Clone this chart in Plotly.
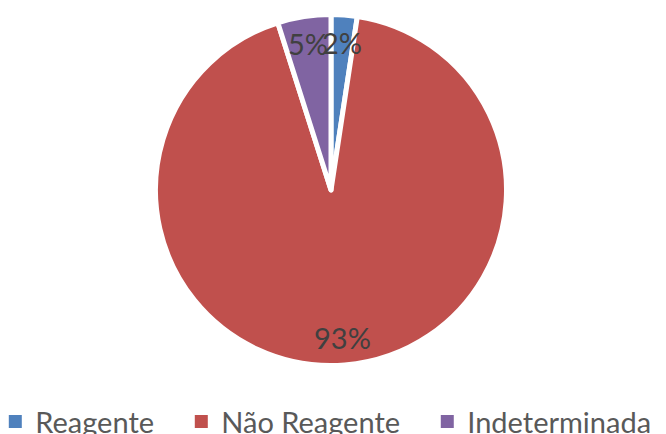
import math
import plotly.graph_objects as go

categories = ["Reagente", "Não Reagente", "Indeterminada"]
values = [2.4, 92.7, 4.9]
colors = ["#4F81BD", "#C0504D", "#8064A2"]
labels_text = ["2%", "93%", "5%"]

FONT = "Lato"
W, H = 740, 434                  # figure is wider than the window; the page body adds an 8px offset
OFF = 8
SCX, SCY = 331, 190              # pie centre on screen, px
R_PX = 175.5                     # outer radius incl. white stroke, px
LABEL_R = 148                    # label distance from centre, px

CX = (SCX - OFF) / W
CY = 1 - (SCY - OFF) / H

fig = go.Figure()
fig.add_trace(go.Pie(
    labels=categories,
    values=values,
    textinfo="none",
    sort=False,
    direction="clockwise",
    rotation=0,
    marker=dict(colors=colors, line=dict(color="white", width=5)),
    domain=dict(x=[CX - R_PX / W, CX + R_PX / W], y=[CY - R_PX / H, CY + R_PX / H]),
    hoverinfo="skip",
    showlegend=False,
))

# legend entries (square markers)
pad = "\u00a0\u00a0\u00a0"
for i, (name, col) in enumerate(zip(categories, colors)):
    fig.add_trace(go.Scatter(
        x=[None], y=[None], mode="markers",
        name=name + (pad if i < len(categories) - 1 else ""),
        marker=dict(symbol="square", size=13, color=col),
        showlegend=True, hoverinfo="skip",
    ))

# percentage labels placed on each slice's bisector
total = sum(values)
cum = 0.0
for v, t in zip(values, labels_text):
    mid = (cum + v / 2) / total * 2 * math.pi
    cum += v
    fig.add_annotation(
        x=CX + LABEL_R * math.sin(mid) / W,
        y=CY + LABEL_R * math.cos(mid) / H,
        xref="paper", yref="paper",
        text=t, showarrow=False,
        font=dict(family=FONT, size=29, color="#404040"),
        xanchor="center", yanchor="middle",
    )

fig.update_layout(
    width=W, height=H,
    margin=dict(l=0, r=0, t=0, b=0, autoexpand=False),
    paper_bgcolor="white",
    plot_bgcolor="white",
    xaxis=dict(visible=False),
    yaxis=dict(visible=False),
    legend=dict(
        orientation="h",
        x=-12.7 / W, xanchor="left",
        y=-0.012, yanchor="bottom",
        font=dict(family=FONT, size=29, color="#595959"),
        bgcolor="rgba(0,0,0,0)",
    ),
)

fig.write_html("out.html")
